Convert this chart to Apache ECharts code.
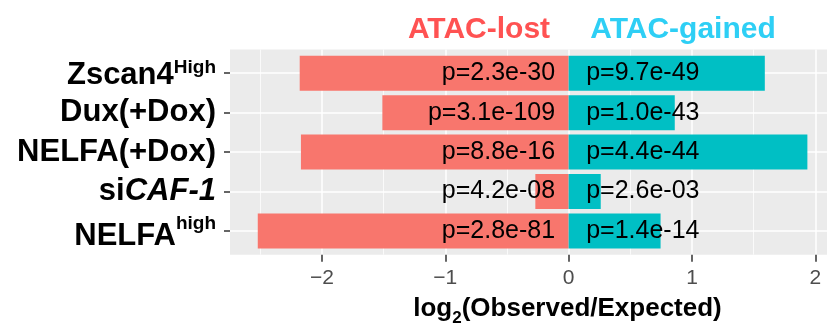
<!DOCTYPE html>
<html>
<head>
<meta charset="utf-8">
<script src="https://cdn.jsdelivr.net/npm/echarts@6/dist/echarts.min.js"></script>
<style>html,body{margin:0;padding:0;background:#fff;}#c{width:827px;height:326px;}</style>
</head>
<body>
<div id="c"></div>
<script>
// ---- data ----
const CATEGORIES = ['{b|Zscan4}{supA|High}', 'Dux(+Dox)', 'NELFA(+Dox)', 'si{it|CAF-1}', '{b|NELFA}{supB|high}'];
const LOST = [-2.18, -1.51, -2.17, -0.27, -2.52];
const GAINED = [1.59, 0.86, 1.935, 0.26, 0.745];
const P_LOST = ['p=2.3e-30', 'p=3.1e-109', 'p=8.8e-16', 'p=4.2e-08', 'p=2.8e-81'];
const P_GAINED = ['p=9.7e-49', 'p=1.0e-43', 'p=4.4e-44', 'p=2.6e-03', 'p=1.4e-14'];
const X_TICKS = [-2, -1, 0, 1, 2];
const X_MINOR = [-2.5, -1.5, -0.5, 0.5, 1.5];
const X_MIN = -2.745, X_MAX = 2.094;
const LEGEND_LOST = 'ATAC-lost', LEGEND_GAINED = 'ATAC-gained';
const X_TITLE = 'log{sub|2}(Observed/Expected)';

const FONT = '"Liberation Sans", Arial, Helvetica, sans-serif';
const chart = echarts.init(document.getElementById('c'), null, {renderer: 'canvas'});

function labelSeries(texts, side) {
  return {
    type: 'custom', xAxisIndex: 2, yAxisIndex: 1, clip: false, silent: true, z: 5,
    data: texts.map((t, i) => [0, i]),
    renderItem: function (params, api) {
      const p = api.coord([api.value(0), api.value(1)]);
      return {
        type: 'text',
        x: p[0] + (side < 0 ? -13.5 : 17.5),
        y: p[1],
        style: {
          text: texts[params.dataIndex],
          align: side < 0 ? 'right' : 'left',
          verticalAlign: 'middle',
          fill: '#000',
          font: '25px ' + FONT
        }
      };
    }
  };
}

const baseRich = {fontSize: 31, lineHeight: 32, fontWeight: 'bold', color: '#000', fontFamily: FONT, verticalAlign: 'bottom'};
const supRich = {fontSize: 19, fontWeight: 'bold', color: '#000', fontFamily: FONT, verticalAlign: 'top'};

const option = {
  animation: false,
  grid: [
    {left: 230, right: 0, top: 49.6, height: 205.1, show: true, backgroundColor: '#EBEBEB', borderWidth: 0},
    {left: 230, right: 0, top: 73.2, height: 157.8, show: false}
  ],
  xAxis: [
    {
      type: 'value', gridIndex: 0, min: X_MIN, max: X_MAX,
      axisLine: {show: false, onZero: false},
      axisTick: {show: true, customValues: X_TICKS, length: 7, lineStyle: {color: '#333333', width: 1.5}},
      axisLabel: {
        customValues: X_TICKS, margin: 13, fontSize: 21, color: '#4D4D4D', fontFamily: FONT,
        formatter: v => (v < 0 ? '\u2212' + Math.abs(v) : String(v))
      },
      splitLine: {show: true, lineStyle: {color: '#FFFFFF', width: 1.5}}
    },
    {
      type: 'value', gridIndex: 0, min: X_MIN, max: X_MAX,
      axisLine: {show: false, onZero: false},
      axisTick: {show: false, customValues: X_MINOR},
      axisLabel: {show: false, customValues: X_MINOR},
      splitLine: {show: true, lineStyle: {color: '#FFFFFF', width: 0.75}}
    },
    {
      type: 'value', gridIndex: 1, min: X_MIN, max: X_MAX, show: false,
      axisLine: {onZero: false}, splitLine: {show: false}
    }
  ],
  yAxis: [
    {type: 'value', gridIndex: 0, min: 0, max: 1, show: false, splitLine: {show: false}},
    {
      type: 'category', gridIndex: 1, data: CATEGORIES, inverse: true, boundaryGap: false,
      axisLine: {show: true, onZero: false, lineStyle: {color: 'rgba(0,0,0,0)', width: 0}},
      axisTick: {show: true, interval: 0, length: 6, lineStyle: {color: '#333333', width: 1.5}},
      splitLine: {show: true, interval: 0, lineStyle: {color: '#FFFFFF', width: 1.5}},
      axisLabel: {
        interval: 0, margin: 14, fontSize: 31, lineHeight: 32, fontWeight: 'bold', color: '#000', fontFamily: FONT,
        formatter: v => v,
        rich: {
          b: baseRich,
          supA: Object.assign({}, supRich, {lineHeight: 36.4, padding: [3.3, 0, 0, 0]}),
          supB: Object.assign({}, supRich, {lineHeight: 42.4, padding: [4.9, 0, 0, 0]}),
          it: {fontSize: 31, lineHeight: 32, fontWeight: 'bold', fontStyle: 'italic', color: '#000', fontFamily: FONT}
        }
      }
    }
  ],
  series: [
    {
      type: 'bar', name: LEGEND_LOST, xAxisIndex: 2, yAxisIndex: 1, stack: 'all', data: LOST,
      barWidth: 35, clip: false, itemStyle: {color: '#F8766D'}
    },
    {
      type: 'bar', name: LEGEND_GAINED, xAxisIndex: 2, yAxisIndex: 1, stack: 'all', data: GAINED,
      barWidth: 35, clip: false, itemStyle: {color: '#00BFC4'}
    },
    labelSeries(P_LOST, -1),
    labelSeries(P_GAINED, 1)
  ],
  graphic: [
    {type: 'text', x: 479, y: 30, style: {text: LEGEND_LOST, align: 'center', verticalAlign: 'middle', fill: '#FF5252', font: 'bold 30px ' + FONT}},
    {type: 'text', x: 683, y: 30, style: {text: LEGEND_GAINED, align: 'center', verticalAlign: 'middle', fill: '#2ECFF5', font: 'bold 30px ' + FONT}},
    {
      type: 'text', x: 567.5, y: 309,
      style: {
        text: X_TITLE, align: 'center', verticalAlign: 'middle', fill: '#000',
        font: 'bold 26px ' + FONT,
        rich: {sub: {font: 'bold 17px ' + FONT, verticalAlign: 'bottom', padding: [0, 0, -5, 0], fill: '#000'}}
      }
    }
  ]
};
chart.setOption(option);
</script>
</body>
</html>
